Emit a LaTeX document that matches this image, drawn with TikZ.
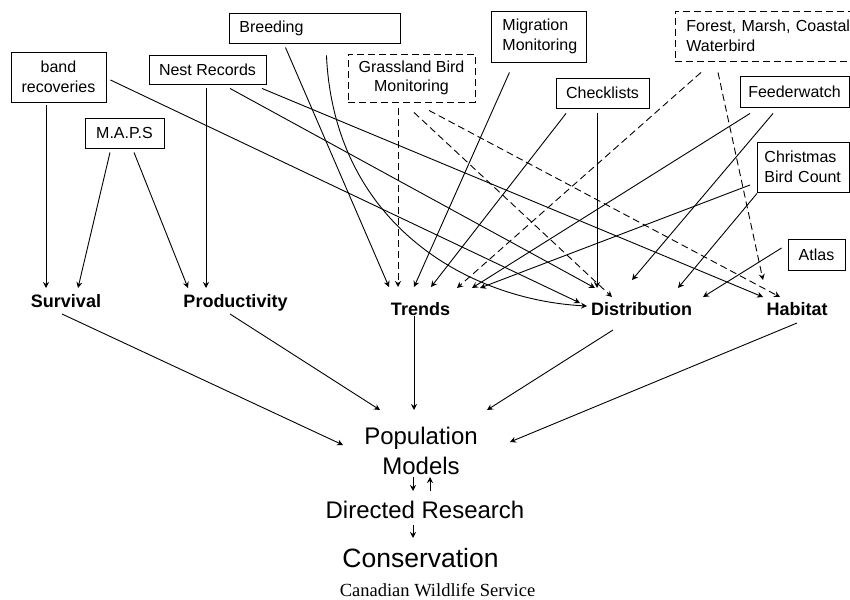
\documentclass[tikz,border=0pt]{standalone}
\usepackage{fontspec}
\setmainfont{Liberation Sans}
\newfontfamily\cwsfont{Liberation Serif}
\usetikzlibrary{arrows.meta, calc}

\begin{document}
\begin{tikzpicture}[x=1pt, y=-1pt,
    box/.style={draw, line width=0.9pt, font=\fontsize{16}{19.5}\selectfont, align=center, inner sep=0pt},
    dbox/.style={box, dash pattern=on 7pt off 4pt},
    lbl/.style={font=\fontsize{18}{22}\selectfont\bfseries, inner sep=0pt, anchor=base},
    big/.style={font=\fontsize{24}{30}\selectfont, inner sep=0pt, align=center},
    arr/.style={line width=0.9pt, -{Stealth[length=6pt, width=6pt, inset=2pt]}},
    darr/.style={arr, dash pattern=on 7pt off 4pt}]
    \useasboundingbox (0,0) rectangle (850,599);
    \clip (0,0) rectangle (850,599);

    % Data sources
    \node[box, minimum width=95pt, minimum height=50pt] (band) at (58.5,77) {band\\recoveries};
    \node[box, minimum width=79pt, minimum height=30pt] (maps) at (124.5,133) {M.A.P.S};
    \node[box, minimum width=117pt, minimum height=29pt] (nest) at (207.5,69.5) {Nest Records};
    \node[box, anchor=west, minimum height=30pt, text width=151pt, align=left, inner xsep=10pt] (breed) at (229,28) {Breeding};
    \node[dbox, minimum width=127pt, minimum height=48pt] (grass) at (411.5,78) {Grassland Bird\\Monitoring};
    \node[box, anchor=west, minimum height=51pt, text width=73pt, align=left, inner xsep=11pt] (migr) at (491,36.5) {Migration\\Monitoring};
    \node[box, minimum width=93pt, minimum height=30pt] (check) at (602.5,93) {Checklists};
    \node[dbox, anchor=west, minimum height=50pt, text width=175pt, align=left, inner xsep=11pt] (forest) at (675,36) {Forest, Marsh, Coastal\\Waterbird};
    \node[box, minimum width=109pt, minimum height=31pt] (feed) at (794.5,91.5) {Feederwatch};
    \node[box, anchor=west, minimum height=50pt, text width=78pt, align=left, inner xsep=7pt] (xmas) at (757,167) {Christmas\\Bird Count};
    \node[box, minimum width=57pt, minimum height=31pt] (atlas) at (816.5,254.5) {Atlas};

    % Parameters
    \node[lbl] (surv) at (66,307) {Survival};
    \node[lbl] (prod) at (235.5,307) {Productivity};
    \node[lbl] (trend) at (420.5,315) {Trends};
    \node[lbl] (dist) at (641.7,315) {Distribution};
    \node[lbl] (hab) at (797,315) {Habitat};

    % Models and outcome
    \node[big] (popmod) at (421,451) {Population\\Models};
    \node[big, anchor=base] (research) at (425,518) {Directed Research};
    \node[font=\fontsize{26.5}{32}\selectfont, inner sep=0pt, anchor=base] (cons) at (420.5,567) {Conservation};
    \node[font=\cwsfont\fontsize{18.5}{22}\selectfont, inner sep=0pt, anchor=base] (cws) at (437.5,596.5) {Canadian Wildlife Service};

    % Sources to parameters
    \draw[arr] ($(band.south)+(-12.5,3)$) -- ($(surv.base)+(-20,-19)$);
    \draw[arr] ($(band.east)+(4,3)$) -- ($(dist.base)+(-61.7,-12)$);
    \draw[arr] ($(maps.south)+(-14.5,4)$) -- ($(surv.base)+(12,-19)$);
    \draw[arr] ($(maps.south)+(9.5,4)$) -- ($(prod.base)+(-47.5,-19)$);
    \draw[arr] ($(nest.south)+(-1.5,4)$) -- ($(prod.base)+(-29.5,-19)$);
    \draw[arr] ($(nest.south)+(22.5,4)$) -- ($(dist.base)+(-46.7,-27)$);
    \draw[arr] ($(nest.south)+(54.5,4)$) -- ($(hab.base)+(-34,-18)$);
    \draw[arr] ($(breed.south)+(-29.5,4)$) -- ($(trend.base)+(-31.5,-28)$);
    \draw[arr] ($(breed.south)+(11.5,12)$) .. controls +(8,170) and +(-117,-6) .. ($(dist.base)+(-54.7,-9)$);
    \draw[darr] ($(grass.south)+(-13.5,6)$) -- ($(trend.base)+(-22.5,-28)$);
    \draw[darr] ($(grass.south)+(2.5,10)$) -- ($(dist.base)+(-29.7,-18)$);
    \draw[darr] ($(grass.south)+(17.5,8)$) -- ($(hab.base)+(-17,-18)$);
    \draw[arr] ($(migr.south)+(-29.5,10)$) -- ($(trend.base)+(-6.5,-28)$);
    \draw[arr] ($(check.south)+(-36.5,5)$) -- ($(trend.base)+(10.5,-28)$);
    \draw[arr] ($(check.south)+(-5.5,5)$) -- ($(dist.base)+(-44.7,-27)$);
    \draw[darr] ($(forest.south west)+(26,11)$) -- ($(trend.base)+(36.5,-27)$);
    \draw[darr] ($(forest.south west)+(43,11)$) -- ($(hab.base)+(-34,-35)$);
    \draw[arr] ($(feed.south)+(-44.5,6)$) -- ($(trend.base)+(51.5,-27)$);
    \draw[arr] ($(feed.south)+(-21.5,6)$) -- ($(dist.base)+(-9.7,-35)$);
    \draw[arr] ($(xmas.west)+(-7,18)$) -- ($(trend.base)+(59.5,-27)$);
    \draw[arr] ($(xmas.south west)+(0,1)$) -- ($(dist.base)+(36.3,-27)$);
    \draw[arr] ($(atlas.west)+(-6,-6.5)$) -- ($(dist.base)+(61.3,-18)$);

    % Parameters to models
    \draw[arr] ($(surv.base)+(-4,7)$) -- ($(popmod.center)+(-78,-6)$);
    \draw[arr] ($(prod.base)+(-5.5,7)$) -- ($(popmod.center)+(-41,-41)$);
    \draw[arr] ($(trend.base)+(-6.5,1)$) -- ($(popmod.center)+(-7,-41)$);
    \draw[arr] ($(dist.base)+(-28.7,15)$) -- ($(popmod.center)+(66,-41)$);
    \draw[arr] ($(hab.base)+(0,8)$) -- ($(popmod.center)+(89,-9)$);
    \draw[arr] ($(popmod.center)+(-8,26)$) -- ($(research.base)+(-12,-27)$);
    \draw[arr] ($(research.base)+(5,-27)$) -- ($(popmod.center)+(9,26)$);
    \draw[arr] ($(research.base)+(-12,7)$) -- ($(cons.base)+(-7.5,-29)$);
\end{tikzpicture}
\end{document}
